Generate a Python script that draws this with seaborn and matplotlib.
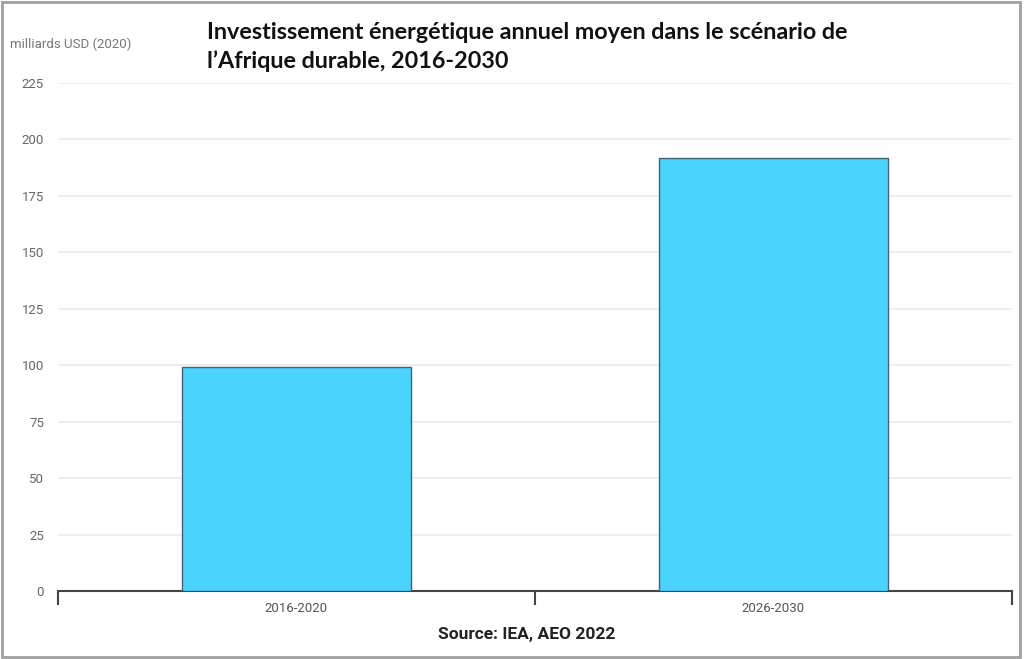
import pandas as pd
import seaborn as sns
import matplotlib.pyplot as plt
from matplotlib.patches import Rectangle

periods = ['2016-2020', '2026-2030']
investment = [99, 192]
y_ticks = [0, 25, 50, 75, 100, 125, 150, 175, 200, 225]

df = pd.DataFrame({'period': periods, 'investment': investment})

sns.set_style('white')
plt.rcParams['font.family'] = ['Lato', 'DejaVu Sans']

fig = plt.figure(figsize=(10.24, 6.59), dpi=100)
ax = fig.add_axes([0.0566, 0.1032, 0.9316, 0.7708])

sns.barplot(data=df, x='period', y='investment', color='#4AD3FD',
            saturation=1, width=0.48, edgecolor='#3d6673', linewidth=1, ax=ax, zorder=3)

ax.set_xlim(-0.5, 1.5)
ax.set_ylim(0, 225)
ax.set_yticks(y_ticks)
ax.set_yticklabels([str(v) for v in y_ticks], color='#666666', fontsize=9.5, family='Roboto')
ax.tick_params(axis='y', length=0, pad=10)
ax.yaxis.grid(True, color='#ebebeb', linewidth=1.2, zorder=0)
ax.set_axisbelow(True)

# category boundary ticks, labels in the middle
ax.set_xticks([-0.5, 0.5, 1.5])
ax.set_xticklabels([])
ax.set_xticks([0, 1], minor=True)
ax.set_xticklabels(periods, minor=True, color='#555555', fontsize=9.5, family='Roboto')
ax.tick_params(axis='x', which='major', bottom=True, direction='out', length=10, width=1.5, color='#444444')
ax.tick_params(axis='x', which='minor', bottom=True, length=0, pad=8)
ax.set_xlabel('')
ax.set_ylabel('')

for s in ['top', 'right', 'left']:
    ax.spines[s].set_visible(False)
ax.spines['bottom'].set_color('#444444')
ax.spines['bottom'].set_linewidth(1.5)

fig.text(0.202, 0.967, 'Investissement énergétique annuel moyen dans le scénario de\nl\u2019Afrique durable, 2016-2030',
         fontsize=16.8, fontweight='bold', color='#111111', va='top', ha='left', linespacing=1.4)
fig.text(0.010, 0.933, 'milliards USD (2020)', fontsize=9.5, color='#777777', va='center', family='Roboto')
fig.text(0.514, 0.037, 'Source: IEA, AEO 2022', fontsize=12.5, fontweight='bold', color='#222222',
         ha='center', va='center', family='Roboto')

fig.patches.append(Rectangle((0.002, 0.003), 0.994, 0.994, transform=fig.transFigure,
                             fill=False, edgecolor='#a0a0a0', linewidth=2))

fig.savefig('out.png', dpi=100)
